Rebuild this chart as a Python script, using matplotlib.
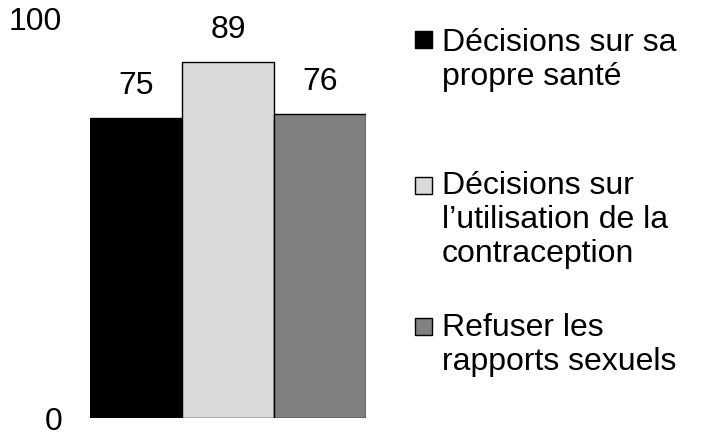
import matplotlib.pyplot as plt
from matplotlib.patches import Rectangle

plt.rcParams['font.family'] = ['Liberation Sans', 'DejaVu Sans']

categories = ["Décisions sur sa\npropre santé",
              "Décisions sur\nl’utilisation de la\ncontraception",
              "Refuser les\nrapports sexuels"]
values = [75, 89, 76]
colors = ["#000000", "#d9d9d9", "#808080"]
ytick_vals = [0, 100]

FS = 23

fig = plt.figure(figsize=(7.09, 4.38), dpi=100)
ax = fig.add_axes([90 / 709, 1 - 418 / 438, 276 / 709, 400 / 438])

x = list(range(len(values)))
bars = ax.bar(x, values, width=1.0, color=colors, edgecolor="black", linewidth=1.0)
for xi, v in zip(x, values):
    ax.annotate(str(v), (xi, v), xytext=(0, 17), textcoords="offset points",
                ha="center", va="baseline", fontsize=FS)

ax.set_xlim(-0.5, 2.5)
ax.set_ylim(0, 100)
ax.set_xticks([])
ax.set_yticks(ytick_vals)
ax.set_yticklabels([str(t) for t in ytick_vals], fontsize=FS)
ax.tick_params(axis="y", length=0, pad=20)
for s in ax.spines.values():
    s.set_visible(False)

# legend drawn by hand to get the uneven spacing of the original
square_tops = [31, 177, 318]      # pixel row of the top of each square
last_baselines = [85, 262, 370]   # pixel row of the last text line
for label, col, top, base in zip(categories, colors, square_tops, last_baselines):
    fig.patches.append(Rectangle((415 / 709, 1 - (top + 17) / 438), 17 / 709, 17 / 438,
                                 transform=fig.transFigure, facecolor=col,
                                 edgecolor="black", linewidth=1.0))
    fig.text(442 / 709, 1 - base / 438, label, fontsize=FS, ha="left",
             va="baseline", linespacing=1.18)

fig.savefig("out.png", dpi=100)
